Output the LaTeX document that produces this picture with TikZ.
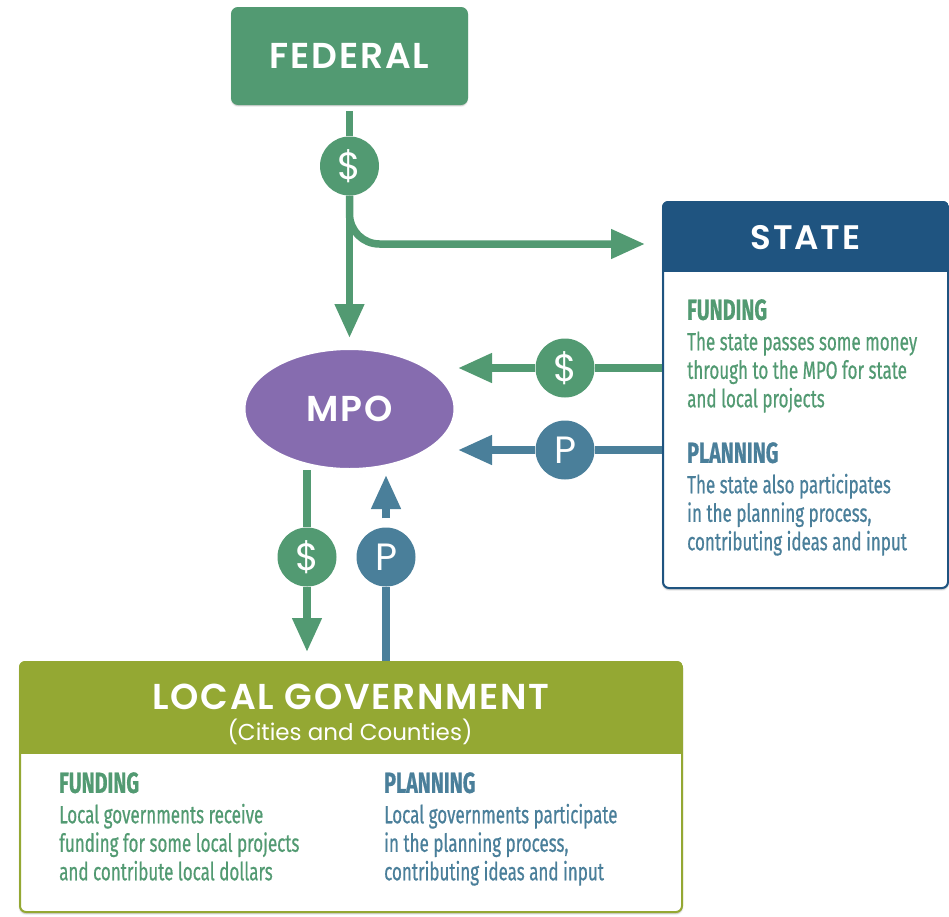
\documentclass[tikz,border=0pt]{standalone}
\usepackage{fontspec}
\usetikzlibrary{arrows.meta,calc,shadows.blur,shapes.geometric}
\newfontfamily\headfont{Poppins}[BoldFont={Poppins SemiBold}, LetterSpace=5]
\newfontfamily\coinfont{Poppins}
\newfontfamily\condfont{Fira Sans}[FakeStretch=0.68, FakeBold=0.6]
\definecolor{fedgreen}{RGB}{82,154,114}
\definecolor{planblue}{RGB}{74,127,154}
\definecolor{statenavy}{RGB}{31,84,128}
\definecolor{mpopurple}{RGB}{134,108,175}
\definecolor{localolive}{RGB}{148,168,51}
\tikzset{
  flow/.style={draw=#1, line width=7.5pt},
  flowhead/.style={-{Triangle[width=28pt,length=34pt]}},
  coin/.style={circle, fill=#1, text=white, minimum size=59pt, inner sep=0pt, font=\coinfont\fontsize{38}{38}\selectfont},
  panel/.style={draw=#1, line width=2pt, fill=white, rounded corners=6pt, blur shadow={shadow blur steps=6, shadow xshift=0pt, shadow yshift=-1.5pt, shadow opacity=30}},
  headtext/.style={text=white, font=\headfont\bfseries\fontsize{36}{40}\selectfont},
  note/.style={anchor=north west, inner sep=0pt, align=left, font=\condfont\fontsize{25}{28.5}\selectfont},
  notehead/.style={font=\condfont\bfseries\fontsize{30}{30}\selectfont}
}
\begin{document}
\begin{tikzpicture}[x=1pt,y=1pt,yscale=-1]
\useasboundingbox (0,0) rectangle (949,916);
\node[panel=fedgreen, fill=fedgreen, minimum width=235, minimum height=96, headtext] (fed) at (349.5,56) {FEDERAL};
\node[panel=statenavy, minimum width=285, minimum height=386] (state) at (805.5,395) {};
\begin{scope}
\clip[rounded corners=6pt] (state.north west) rectangle (state.south east);
\fill[statenavy] (state.north west) rectangle ($(state.north east)+(0,71)$);
\end{scope}
\node[headtext, font=\headfont\bfseries\fontsize{34}{40}\selectfont] (statetitle) at (805.5,238) {STATE};
\node[note, text=fedgreen] (statefund) at (687,299) {{\bfseries\fontsize{29}{29}\selectfont FUNDING}\\[2pt]The state passes some money\\through to the MPO for state\\and local projects};
\node[note, text=planblue] (stateplan) at (687,442) {{\bfseries\fontsize{29}{29}\selectfont PLANNING}\\[2pt]The state also participates\\in the planning process,\\contributing ideas and input};
\node[panel=localolive, minimum width=662, minimum height=250] (local) at (351,787) {};
\begin{scope}
\clip[rounded corners=6pt] (local.north west) rectangle (local.south east);
\fill[localolive] (local.north west) rectangle ($(local.north east)+(0,93)$);
\end{scope}
\node[headtext] (localtitle) at (351,697) {LOCAL GOVERNMENT};
\node[text=white, font=\coinfont\fontsize{23}{24}\selectfont] (localsub) at (350,732) {(Cities and Counties)};
\node[note, text=fedgreen] (localfund) at (59,772) {{\bfseries\fontsize{29}{29}\selectfont FUNDING}\\[2pt]Local governments receive\\funding for some local projects\\and contribute local dollars};
\node[note, text=planblue] (localplan) at (384,772) {{\bfseries\fontsize{29}{29}\selectfont PLANNING}\\[2pt]Local governments participate\\in the planning process,\\contributing ideas and input};
\node[ellipse, fill=mpopurple, draw=white, line width=6pt, minimum width=214, minimum height=124, blur shadow={shadow blur steps=6, shadow xshift=0pt, shadow yshift=-1pt, shadow opacity=25}, headtext] (mpo) at (349.5,409) {MPO};
\node[coin=fedgreen] (fedcoin) at (349.5,166) {\$};
\node[coin=fedgreen] (statefundcoin) at (565,368) {\$};
\node[coin=planblue] (stateplancoin) at (565,450) {P};
\node[coin=fedgreen] (localfundcoin) at (307,557) {\$};
\node[coin=planblue] (localplancoin) at (386,557) {P};
\coordinate (branchend) at (645,244);
\coordinate (mpofund) at (458,368);
\coordinate (mpoplan) at (458,450);
\coordinate (mpodown) at (307,470);
\coordinate (mpoup) at (386,475);
\draw[flow=fedgreen, shorten <=6pt] (fed) -- (fedcoin);
\draw[flow=fedgreen, flowhead, shorten >=6pt] (fedcoin) -- (mpo);
\draw[flow=fedgreen, flowhead, rounded corners=30pt] (fedcoin) |- (branchend);
\draw[flow=fedgreen, flowhead] (state.west |- statefundcoin) -- (statefundcoin) -- (mpofund);
\draw[flow=planblue, flowhead] (state.west |- stateplancoin) -- (stateplancoin) -- (mpoplan);
\draw[flow=fedgreen, flowhead, shorten >=9pt] (mpodown) -- (localfundcoin) -- (localfundcoin |- local.north);
\draw[flow=planblue, flowhead, shorten <=9pt] (localplancoin |- local.north) -- (localplancoin) -- (mpoup);
\end{tikzpicture}
\end{document}
